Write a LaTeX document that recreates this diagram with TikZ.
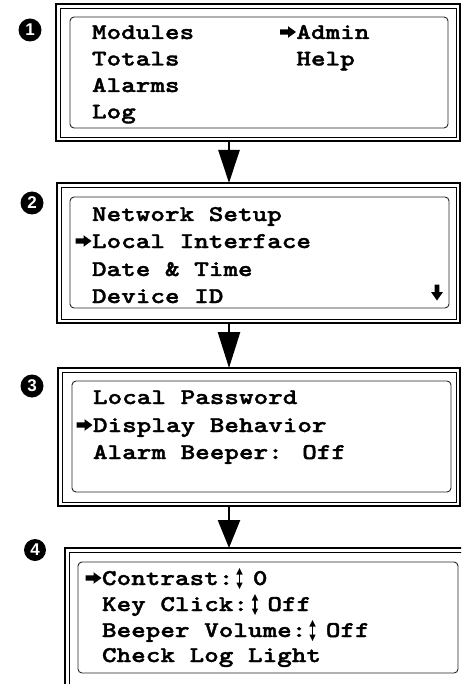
\documentclass[tikz,border=0pt]{standalone}
\usepackage{fontspec}
\newfontfamily\lcdfont{lmmonolt10-bold}[Extension=.otf, FakeStretch=1.236, FakeBold=1.6]
\newfontfamily\numfont{Liberation Sans}
\usetikzlibrary{arrows.meta}
\begin{document}
\begin{tikzpicture}[x=1pt,y=-1pt,
  frame/.style={draw, line width=2.5pt, inner sep=0pt, outer sep=0pt},
  thinframe/.style={draw, line width=0.8pt},
  screen/.style={draw=black!85, line width=0.9pt, rounded corners=4pt, inner sep=0pt, outer sep=0pt},
  lcd/.style={anchor=base west, inner sep=0pt, outer sep=0pt, font=\lcdfont\fontsize{22.5}{22.5}\selectfont},
  badge/.style={circle, fill=black, text=white, minimum size=23pt, inner sep=0pt, font=\numfont\bfseries\fontsize{17}{17}\selectfont},
  flow/.style={line width=2.5pt},
  pointer/.pic={\fill (0,-2.6) -- (8,-2.6) -- (8,-5.8) -- (16,0) -- (8,5.8) -- (8,2.6) -- (0,2.6) -- cycle;},
  updown/.pic={\draw[line width=1.5pt] (0,-5) -- (0,5);
               \fill (-3.2,-4) -- (3.2,-4) -- (0,-10.5) -- cycle;
               \fill (-3.2,4) -- (3.2,4) -- (0,10.5) -- cycle;},
  downarr/.pic={\fill (-2.3,0) -- (2.3,0) -- (2.3,7.5) -- (6,7.5) -- (0,16) -- (-6,7.5) -- (-2.3,7.5) -- cycle;}
]
\useasboundingbox (0,0) rectangle (461,684);
\fill[white] (0,0) rectangle (461,684);
\clip (0,0) rectangle (461,684);

% ---------- box 1 ----------
\node[frame, minimum width=404pt, minimum height=137pt] (b1) at (258,72.5) {};
\draw[thinframe] ([xshift=4pt,yshift=-4pt]b1.north west) rectangle ([xshift=-4pt,yshift=4pt]b1.south east);
\node[screen, minimum width=378pt, minimum height=111pt] (s1) at (259,72.5) {};
\node[badge] (n1) at (30,30) {1};
\node[lcd] (t11) at (92,39) {Modules};
\node[lcd] (t12) at (92,65.5) {Totals};
\node[lcd] (t13) at (92,92) {Alarms};
\node[lcd] (t14) at (92,118.5) {Log};
\node[lcd] (t15) at (296.4,39) {Admin};
\node[lcd] (t16) at (296.4,65.5) {Help};
\pic at (280,32) {pointer};

% ---------- box 2 ----------
\node[frame, minimum width=403pt, minimum height=140pt] (b2) at (258.5,253) {};
\draw[thinframe] ([xshift=4pt,yshift=-4pt]b2.north west) rectangle ([xshift=-4pt,yshift=4pt]b2.south east);
\node[screen, minimum width=379pt, minimum height=111pt] (s2) at (259.5,252.5) {};
\node[badge] (n2) at (32,203) {2};
\node[lcd] (t21) at (92,221) {Network Setup};
\node[lcd] (t22) at (92,248) {Local Interface};
\node[lcd] (t23) at (92,276) {Date \& Time};
\node[lcd] (t24) at (92,303) {Device ID};
\pic at (75.5,241) {pointer};
\pic at (437,284.5) {downarr};

% ---------- box 3 ----------
\node[frame, minimum width=402pt, minimum height=138pt] (b3) at (259,437) {};
\draw[thinframe] ([xshift=4pt,yshift=-4pt]b3.north west) rectangle ([xshift=-4pt,yshift=4pt]b3.south east);
\node[screen, minimum width=379pt, minimum height=111pt] (s3) at (261.5,436.5) {};
\node[badge] (n3) at (32,386) {3};
\node[lcd] (t31) at (93,404) {Local Password};
\node[lcd] (t32) at (93,432) {Display Behavior};
\node[lcd] (t33) at (93,459) {Alarm Beeper: Off};
\pic at (76.5,425) {pointer};

% ---------- box 4 ----------
\node[frame, minimum width=406pt, minimum height=140pt] (b4) at (268,618) {};
\draw[thinframe] ([xshift=4pt,yshift=-4pt]b4.north west) rectangle ([xshift=-4pt,yshift=4pt]b4.south east);
\node[screen, minimum width=380pt, minimum height=111pt] (s4) at (268,617.5) {};
\node[badge, minimum size=22pt] (n4) at (35,550) {4};
\node[lcd] (t41) at (102,585) {Contrast: 0};
\node[lcd] (t42) at (102,611) {Key Click: Off};
\node[lcd] (t43) at (102,637) {Beeper Volume: Off};
\node[lcd] (t44) at (102,662) {Check Log Light};
\pic at (85.5,578) {pointer};
\pic at (239.5,578.5) {updown};
\pic at (255,604.5) {updown};
\pic at (312.5,630.5) {updown};

% ---------- connectors ----------
\coordinate (ax) at (229,0);
\draw[flow, -{Triangle[width=21pt,length=33pt]}] (b1.south -| ax) -- (b2.north -| ax);
\draw[flow, -{Triangle[width=22pt,length=36pt]}] (b2.south -| ax) -- (b3.north -| ax);
\draw[flow, -{Triangle[width=22pt,length=28pt]}] (b3.south -| ax) -- (b4.north -| ax);
\end{tikzpicture}
\end{document}
